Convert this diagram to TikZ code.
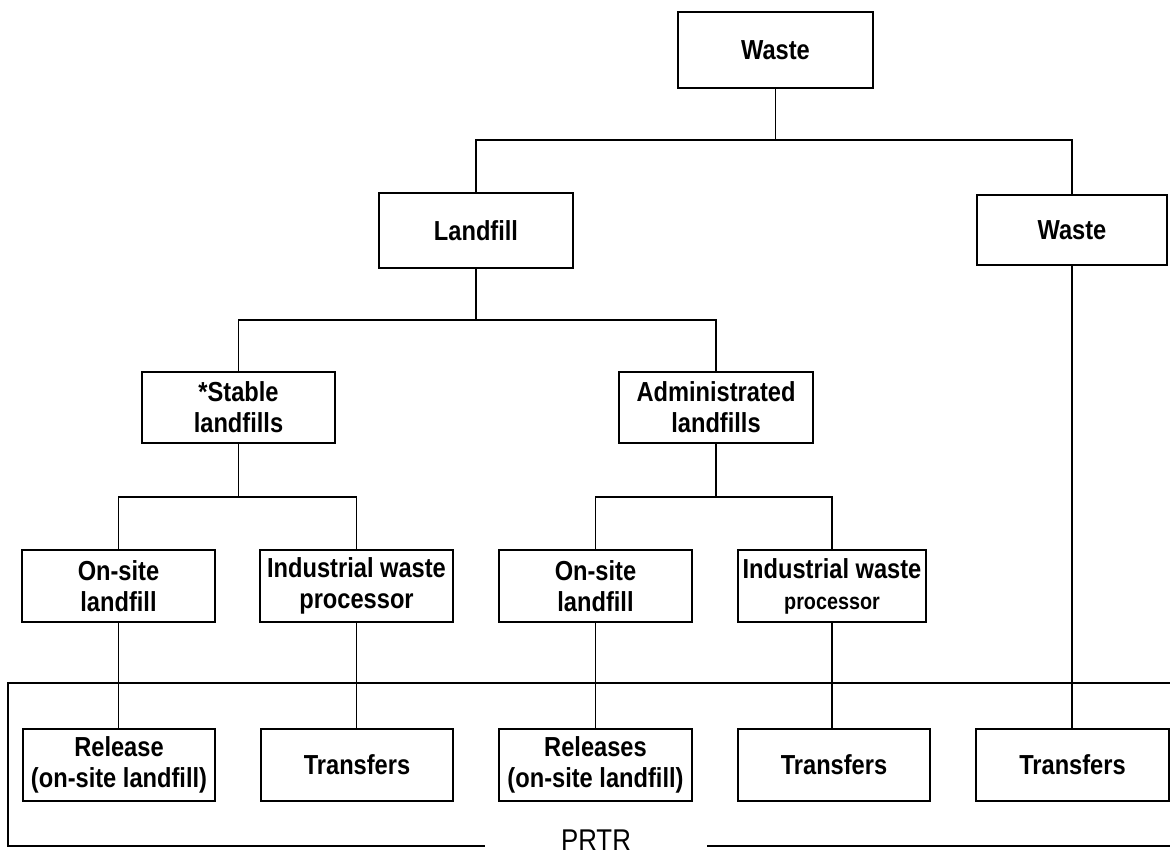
\documentclass[tikz,border=0pt]{standalone}
\usepackage{fontspec}
\setmainfont{Liberation Sans}[FakeStretch=0.86]
\begin{document}
\begin{tikzpicture}[x=1pt,y=-1pt,
  box/.style={draw,line width=1.3pt,rectangle,inner sep=0pt,align=center,
    font=\fontsize{27.5}{31}\selectfont\bfseries,minimum height=72pt},
  ln/.style={line width=1.1pt}]
\useasboundingbox (0,0) rectangle (1170,857);
\node[box,minimum width=195pt,minimum height=76pt] (w0) at (775.5,50) {Waste};
\node[box,minimum width=194pt,minimum height=75pt] (lf) at (476,230.5) {Landfill};
\node[box,minimum width=190pt,minimum height=70pt] (w1) at (1072,230) {Waste};
\node[box,minimum width=193pt,minimum height=71pt] (st) at (238.5,407.5) {*Stable\\landfills};
\node[box,minimum width=194pt,minimum height=71pt] (ad) at (716,407.5) {Administrated\\landfills};
\node[box,minimum width=193pt] (os1) at (118.5,586) {On-site\\landfill};
\node[box,minimum width=193pt] (ip1) at (356.5,586) {Industrial waste\\processor};
\node[box,minimum width=193pt] (os2) at (595.5,586) {On-site\\landfill};
\node[box,minimum width=188pt] (ip2) at (832,586) {Industrial waste\\{\fontsize{23}{28}\selectfont processor}};
\node[box,minimum width=192pt] (r1) at (119,765) {Release\\(on-site landfill)};
\node[box,minimum width=192pt] (t1) at (357,765) {Transfers};
\node[box,minimum width=193pt] (r2) at (595.5,765) {Releases\\(on-site landfill)};
\node[box,minimum width=192pt] (t2) at (834,765) {Transfers};
\node[box,minimum width=193pt] (t3) at (1072.5,765) {Transfers};
% tree connectors
\draw[ln] (w0.south) -- (w0.south |- 0,140);
\draw[ln] (lf.north) -- (lf.north |- 0,140) -| (w1.north);
\draw[ln] (lf.south) -- (lf.south |- 0,320);
\draw[ln] (st.north) -- (st.north |- 0,320) -| (ad.north);
\draw[ln] (st.south) -- (st.south |- 0,497);
\draw[ln] (os1.north) -- (os1.north |- 0,497) -| (ip1.north);
\draw[ln] (ad.south) -- (ad.south |- 0,497);
\draw[ln] (os2.north) -- (os2.north |- 0,497) -| (ip2.north);
\draw[ln] (os1.south) -- (os1.south |- r1.north);
\draw[ln] (ip1.south) -- (ip1.south |- t1.north);
\draw[ln] (os2.south) -- (os2.south |- r2.north);
\draw[ln] (ip2.south) -- (ip2.south |- t2.north);
\draw[ln] (w1.south) -- (w1.south |- t3.north);
% PRTR bracket
\node[font=\fontsize{30}{31}\selectfont,inner sep=0pt] (prtr) at (596,840) {PRTR};
\coordinate (bl) at (8,846);
\coordinate (tl) at (8,683);
\coordinate (tr) at (1170,683);
\coordinate (br) at (1170,846);
\draw[ln] (tr) -- (tl) -- (bl) -- (485,846);
\draw[ln] (707,846) -- (br);
\end{tikzpicture}
\end{document}
